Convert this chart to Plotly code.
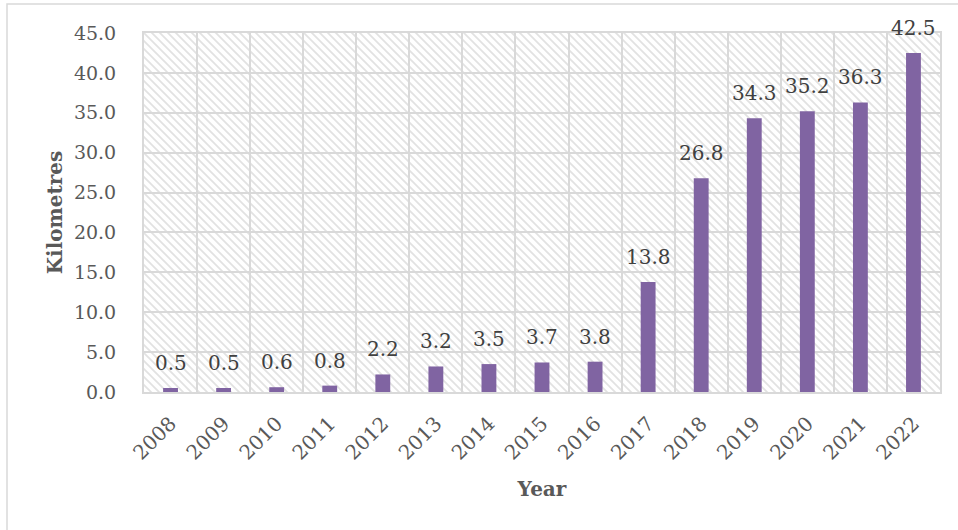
import base64
import plotly.graph_objects as go

years = ["2008", "2009", "2010", "2011", "2012", "2013", "2014", "2015",
         "2016", "2017", "2018", "2019", "2020", "2021", "2022"]
km = [0.5, 0.5, 0.6, 0.8, 2.2, 3.2, 3.5, 3.7, 3.8, 13.8, 26.8, 34.3, 35.2, 36.3, 42.5]
labels = [f"{v:.1f}" for v in km]

W, H = 958, 530
ML, MR, MT, MB = 144, 18, 33, 138
PW, PH = W - ML - MR, H - MT - MB

FONT = "DejaVu Serif"
BAR = "#8064A2"
GRID = "#d9d9d9"

# hatched plot-area background (decoration)
P = 8
svg = f'''<svg xmlns="http://www.w3.org/2000/svg" width="{PW}" height="{PH}">
<defs><pattern id="h" width="{P}" height="{P}" patternUnits="userSpaceOnUse">
<rect width="{P}" height="{P}" fill="white"/>
<path d="M-1,-1 L{P+1},{P+1} M-1,{P-1} L1,{P+1} M{P-1},-1 L{P+1},1" stroke="#e2e2e2" stroke-width="1.7"/>
</pattern></defs>
<rect width="{PW}" height="{PH}" fill="url(#h)"/></svg>'''
src = "data:image/svg+xml;base64," + base64.b64encode(svg.encode()).decode()

fig = go.Figure()
fig.add_trace(go.Bar(x=years, y=km, marker=dict(color=BAR, line=dict(width=0)),
                     width=0.28, hoverinfo="x+y"))

annotations = [
    dict(x=i, y=y, text=t, xref="x", yref="y", showarrow=False,
         yanchor="bottom", yshift=11,
         font=dict(family=FONT, size=20, color="#404040"))
    for i, (y, t) in enumerate(zip(km, labels))
]

fig.update_layout(
    width=W, height=H,
    margin=dict(l=ML, r=MR, t=MT, b=MB),
    paper_bgcolor="white", plot_bgcolor="white",
    showlegend=False,
    font=dict(family=FONT, size=20, color="#595959"),
    annotations=annotations,
    images=[dict(source=src, xref="paper", yref="paper", x=0, y=1,
                 sizex=1, sizey=1, xanchor="left", yanchor="top",
                 sizing="stretch", layer="below")],
    shapes=[dict(type="rect", xref="paper", yref="paper",
                 x0=(7 - ML) / PW, x1=(W + 5 - ML) / PW,
                 y0=-(MB + 5) / PH, y1=1 + (MT - 4) / PH,
                 line=dict(color=GRID, width=1.5), fillcolor="rgba(0,0,0,0)",
                 layer="below")],
    xaxis=dict(
        type="category", categoryorder="array", categoryarray=years,
        range=[-0.5, len(years) - 0.5], autorange=False,
        tickson="boundaries", showgrid=True,
        gridcolor=GRID, gridwidth=2, ticks="", tickangle=-45,
        ticklabelstandoff=10,
        showline=True, mirror=True, linecolor=GRID, linewidth=2,
        tickfont=dict(family=FONT, size=20, color="#595959"),
        title=dict(text="<b>Year</b>", standoff=18,
                   font=dict(family=FONT, size=20, color="#595959")),
    ),
    yaxis=dict(
        range=[0, 45], autorange=False, dtick=5, tickformat=".1f", showgrid=True,
        gridcolor=GRID, gridwidth=2, zeroline=False,
        showline=True, mirror=True, linecolor=GRID, linewidth=2,
        ticks="outside", ticklen=22, tickcolor="rgba(0,0,0,0)",
        tickfont=dict(family=FONT, size=19, color="#595959"),
        title=dict(text="<b>Kilometres</b>", standoff=6,
                   font=dict(family=FONT, size=20, color="#595959")),
    ),
)

fig.write_html("out.html")
